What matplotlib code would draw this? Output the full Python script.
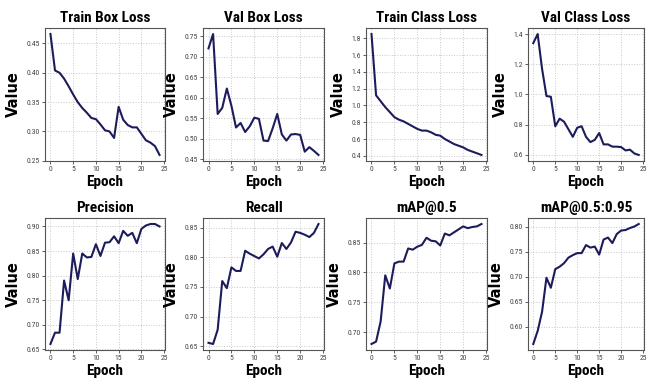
import matplotlib
matplotlib.use("Agg")
import matplotlib.pyplot as plt
from matplotlib.ticker import MultipleLocator
from matplotlib import font_manager

epochs = list(range(25))

train_box_loss = [0.466, 0.404, 0.400, 0.390, 0.377, 0.363, 0.350, 0.340, 0.332, 0.323,
                  0.321, 0.312, 0.302, 0.300, 0.289, 0.342, 0.320, 0.311, 0.307, 0.307,
                  0.296, 0.285, 0.281, 0.275, 0.260]
val_box_loss = [0.720, 0.755, 0.560, 0.575, 0.622, 0.580, 0.527, 0.538, 0.516, 0.530,
                0.551, 0.548, 0.495, 0.494, 0.525, 0.560, 0.510, 0.495, 0.510, 0.511,
                0.509, 0.468, 0.479, 0.470, 0.460]
train_class_loss = [1.85, 1.12, 1.05, 0.98, 0.92, 0.86, 0.83, 0.81, 0.78, 0.75,
                    0.72, 0.70, 0.70, 0.68, 0.65, 0.64, 0.60, 0.57, 0.54, 0.52,
                    0.50, 0.47, 0.45, 0.43, 0.41]
val_class_loss = [1.34, 1.40, 1.17, 0.99, 0.985, 0.79, 0.84, 0.82, 0.77, 0.72,
                  0.78, 0.79, 0.72, 0.685, 0.70, 0.745, 0.67, 0.67, 0.655, 0.655,
                  0.652, 0.63, 0.635, 0.61, 0.60]
precision = [0.661, 0.684, 0.684, 0.790, 0.750, 0.845, 0.793, 0.845, 0.837, 0.838,
             0.864, 0.840, 0.867, 0.868, 0.880, 0.866, 0.891, 0.881, 0.887, 0.866,
             0.895, 0.902, 0.905, 0.905, 0.900]
recall = [0.656, 0.654, 0.678, 0.760, 0.748, 0.783, 0.777, 0.777, 0.811, 0.806,
          0.802, 0.798, 0.805, 0.814, 0.818, 0.801, 0.824, 0.814, 0.825, 0.843,
          0.841, 0.838, 0.834, 0.841, 0.856]
map50 = [0.680, 0.684, 0.718, 0.795, 0.773, 0.815, 0.818, 0.818, 0.840, 0.838,
         0.843, 0.846, 0.858, 0.853, 0.852, 0.845, 0.865, 0.862, 0.867, 0.872,
         0.877, 0.874, 0.876, 0.877, 0.881]
map50_95 = [0.566, 0.592, 0.630, 0.698, 0.678, 0.715, 0.720, 0.727, 0.738, 0.743,
            0.747, 0.747, 0.763, 0.758, 0.760, 0.744, 0.774, 0.778, 0.767, 0.785,
            0.792, 0.793, 0.797, 0.800, 0.805]

titles = ["Train Box Loss", "Val Box Loss", "Train Class Loss", "Val Class Loss",
          "Precision", "Recall", "mAP@0.5", "mAP@0.5:0.95"]
series = [train_box_loss, val_box_loss, train_class_loss, val_class_loss,
          precision, recall, map50, map50_95]
ytick_steps = [0.05, 0.05, 0.2, 0.2, 0.05, 0.05, 0.05, 0.05]
xticks = [0, 5, 10, 15, 20, 25]

# pick a narrow font if available
names = {f.name for f in font_manager.fontManager.ttflist}
narrow = "DejaVu Sans"
for cand in ["Liberation Sans Narrow", "Roboto Condensed", "Open Sans Condensed",
             "DejaVu Sans Condensed"]:
    if cand in names:
        narrow = cand
        break

W, H = 649, 382
fig = plt.figure(figsize=(W / 100, H / 100), dpi=100)

lefts = [45, 203, 366, 528]
widths = [120, 121, 121, 116]
rows = [(28, 161), (218, 350)]
line_color = "#1c1c5c"

for i, (title, ys) in enumerate(zip(titles, series)):
    r, c = divmod(i, 4)
    top, bot = rows[r]
    ax = fig.add_axes([lefts[c] / W, 1 - bot / H, widths[c] / W, (bot - top) / H])
    ax.plot(epochs, ys, color=line_color, lw=1.5)
    ax.set_xticks(xticks)
    ax.yaxis.set_major_locator(MultipleLocator(ytick_steps[i]))
    ax.grid(True, linestyle=":", color="#c8c8c8", lw=0.7)
    ax.set_title(title, fontsize=11, fontweight="bold", pad=4, family=narrow)
    ax.set_xlabel("Epoch", fontsize=11, fontweight="bold", labelpad=2, family=narrow)
    ax.set_ylabel("Value", fontsize=10.5, fontweight="heavy", labelpad=4)
    ax.tick_params(labelsize=5.5, length=2, width=0.6, pad=1.5, colors="#444444")
    for lab in ax.get_xticklabels() + ax.get_yticklabels():
        lab.set_family(narrow)
    for s in ax.spines.values():
        s.set_color("#555555")
        s.set_linewidth(0.8)

fig.savefig("out.png", dpi=100)
